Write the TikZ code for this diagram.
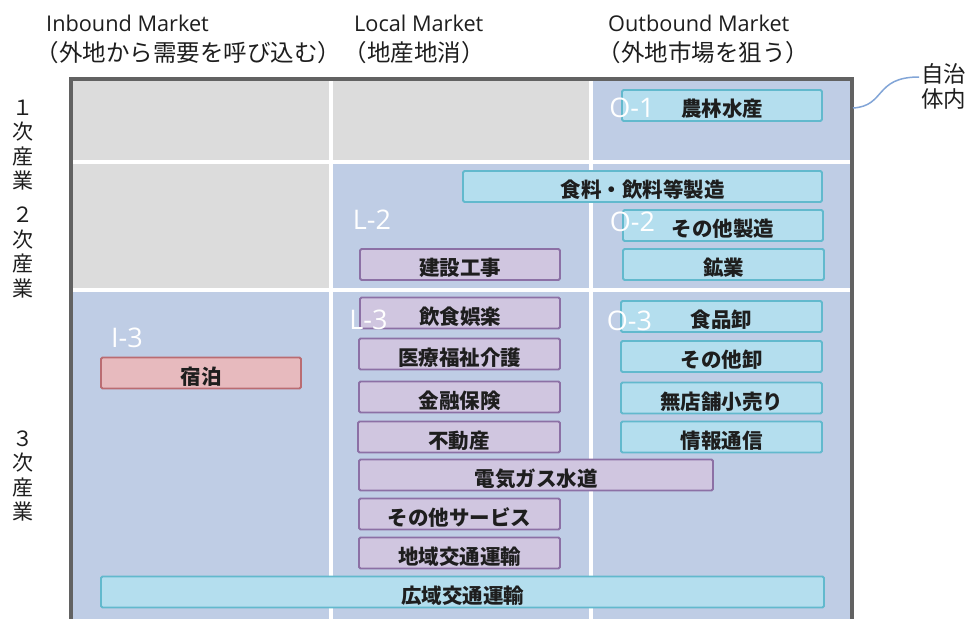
\documentclass[tikz,border=0pt]{standalone}
\usepackage{fontspec}
\setmainfont{Open Sans}
\newfontfamily\jp{Noto Sans CJK JP}
\definecolor{cellgray}{RGB}{220,220,220}
\definecolor{cellblue}{RGB}{191,205,229}
\definecolor{framegray}{RGB}{98,98,98}
\definecolor{cyanfill}{RGB}{180,222,238}
\definecolor{cyanline}{RGB}{98,185,205}
\definecolor{purfill}{RGB}{208,198,224}
\definecolor{purline}{RGB}{140,112,165}
\definecolor{pinkfill}{RGB}{231,186,190}
\definecolor{pinkline}{RGB}{186,108,114}
\definecolor{linkblue}{RGB}{130,165,215}
\definecolor{ink}{RGB}{30,30,30}
\begin{document}
\begin{tikzpicture}[x=1pt,y=-1pt,
  cellbox/.style={rectangle, rounded corners=1.5pt, line width=1.8pt, inner sep=0pt,
    minimum height=31pt, text height=24pt, text depth=1.4pt, text=ink,
    font={\jp\bfseries\fontsize{20.5}{24}\selectfont}},
  ob/.style={cellbox, draw=cyanline, fill=cyanfill},
  lb/.style={cellbox, draw=purline, fill=purfill},
  ib/.style={cellbox, draw=pinkline, fill=pinkfill},
  zone/.style={text=white, inner sep=0pt, font={\fontsize{27}{32}\selectfont}},
  head/.style={anchor=base west, inner sep=0pt, text=ink, font={\fontsize{21.7}{26}\selectfont}},
  headjp/.style={anchor=base west, inner sep=0pt, text=ink, font={\jp\fontsize{23.5}{28}\selectfont}},
  side/.style={align=center, inner sep=0pt, text=ink, font={\jp\fontsize{21}{24.5}\selectfont}},
  sidebig/.style={align=center, inner sep=0pt, text=ink, font={\jp\fontsize{22.5}{25}\selectfont}},
  divider/.style={white, line width=4pt},
  link/.style={linkblue, line width=1.5pt}
]
\useasboundingbox (0,0) rectangle (971,618);
\fill[white] (0,0) rectangle (971,618);
% cells
\fill[cellgray] (73,81) rectangle (331,290);
\fill[cellgray] (331,81) rectangle (591,162);
\fill[cellblue] (591,81) rectangle (850,640);
\fill[cellblue] (331,162) rectangle (591,640);
\fill[cellblue] (73,290) rectangle (331,640);
% dividers
\draw[divider] (331,81) -- (331,640);
\draw[divider] (591,81) -- (591,640);
\draw[divider] (73,162) -- (850,162);
\draw[divider] (73,290) -- (850,290);
% frame
\draw[framegray, line width=3.5pt] (71,79) rectangle (852,660);

% headers
\node[head] (h1) at (46,32) {Inbound Market};
\node[headjp] (h1j) at (35.5,61) {（外地から需要を呼び込む）};
\node[head] (h2) at (354,32) {Local Market};
\node[headjp] (h2j) at (343.5,61) {（地産地消）};
\node[head] (h3) at (608,32) {Outbound Market};
\node[headjp] (h3j) at (597.5,61) {（外地市場を狙う）};

% side labels
\node[side] (s1) at (23,145) {１\\次\\産\\業};
\node[side] (s2) at (23,252.5) {２\\次\\産\\業};
\node[side] (s3) at (23,476) {３\\次\\産\\業};
\node[sidebig, anchor=west] (jichi) at (921,86) {自治\\体内};

% boxes
\node[ob, minimum width=200pt] (nor) at (722,105.5) {農林水産};
\node[ob, minimum width=359pt] (shoku) at (642.5,186.5) {食料・飲料等製造};
\node[ob, minimum width=200pt] (sonota) at (723,225.5) {その他製造};
\node[ob, minimum width=201pt] (kogyo) at (723.5,264.5) {鉱業};
\node[lb, minimum width=200pt] (kensetsu) at (460,264.5) {建設工事};
\node[lb, minimum width=200pt] (inshoku) at (460,313) {飲食娯楽};
\node[lb, minimum width=201pt] (iryo) at (459.5,354) {医療福祉介護};
\node[lb, minimum width=201pt] (kinyu) at (459.5,397) {金融保険};
\node[lb, minimum width=202pt] (fudosan) at (459,437) {不動産};
\node[lb, minimum width=354pt] (denki) at (536,475) {電気ガス水道};
\node[lb, minimum width=201pt] (service) at (459.5,514) {その他サービス};
\node[lb, minimum width=201pt] (chiiki) at (459.5,553) {地域交通運輸};
\node[ob, minimum width=723pt] (koiki) at (462.5,592) {広域交通運輸};
\node[ib, minimum width=200pt] (shukuhaku) at (201,373) {宿泊};
\node[ob, minimum width=201pt] (shokuhin) at (721.5,316.5) {食品卸};
\node[ob, minimum width=201pt] (oroshi) at (721.5,356.5) {その他卸};
\node[ob, minimum width=201pt] (mutenpo) at (721.5,398) {無店舗小売り};
\node[ob, minimum width=201pt] (joho) at (721.5,437) {情報通信};

% zone labels
\node[zone] (o1) at (632,108) {O-1};
\node[zone] (l2) at (372,220) {L-2};
\node[zone] (o2) at (632.5,222) {O-2};
\node[zone] (i3) at (127,338) {I-3};
\node[zone] (l3) at (368.5,320) {L-3};
\node[zone] (o3) at (629.5,321) {O-3};

% connector
\coordinate (fr) at (853,108);
\coordinate (je) at ([xshift=-2pt,yshift=9pt]jichi.west);
\draw[link] (fr) .. controls (886,106) and (874,77) .. (je);
\end{tikzpicture}
\end{document}
